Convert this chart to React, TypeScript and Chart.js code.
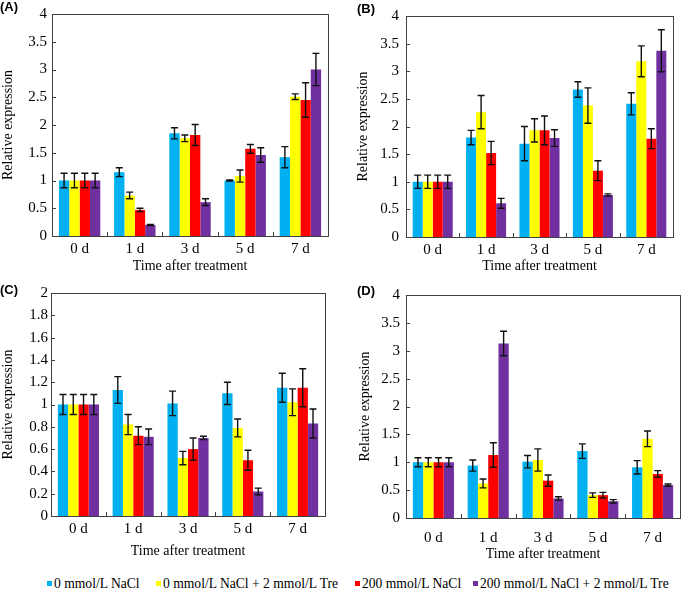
import React, { useEffect, useRef } from "react";
import { Chart, registerables } from "chart.js";

Chart.register(...registerables);

const CATEGORIES = ["0 d", "1 d", "3 d", "5 d", "7 d"];
const SERIES = [
  "0 mmol/L NaCl",
  "0 mmol/L NaCl + 2 mmol/L Tre",
  "200 mmol/L NaCl",
  "200 mmol/L NaCl + 2 mmol/L Tre",
];
const COLORS = ["#00B0F0", "#FFFF00", "#FF0000", "#7030A0"];

// rows = series, columns = categories
const A_MEANS = [
  [1.0, 1.15, 1.85, 1.0, 1.42],
  [1.0, 0.73, 1.76, 1.08, 2.51],
  [1.0, 0.47, 1.82, 1.57, 2.45],
  [1.0, 0.2, 0.61, 1.46, 3.0],
];
const A_ERRS = [
  [0.13, 0.08, 0.1, 0.01, 0.19],
  [0.13, 0.06, 0.06, 0.11, 0.05],
  [0.13, 0.03, 0.19, 0.08, 0.31],
  [0.13, 0.01, 0.06, 0.13, 0.29],
];

const B_MEANS = [
  [1.0, 1.8, 1.69, 2.67, 2.41],
  [1.0, 2.26, 1.93, 2.38, 3.18],
  [1.0, 1.52, 1.93, 1.2, 1.78],
  [1.0, 0.61, 1.79, 0.76, 3.37],
];
const B_ERRS = [
  [0.12, 0.13, 0.31, 0.14, 0.2],
  [0.12, 0.3, 0.21, 0.32, 0.28],
  [0.12, 0.21, 0.26, 0.18, 0.18],
  [0.12, 0.09, 0.15, 0.02, 0.38],
];

const C_MEANS = [
  [1.0, 1.13, 1.01, 1.1, 1.15],
  [1.0, 0.82, 0.52, 0.79, 1.02],
  [1.0, 0.72, 0.6, 0.5, 1.15],
  [1.0, 0.71, 0.7, 0.22, 0.83],
];
const C_ERRS = [
  [0.09, 0.12, 0.11, 0.1, 0.13],
  [0.09, 0.09, 0.06, 0.08, 0.12],
  [0.09, 0.08, 0.1, 0.09, 0.17],
  [0.09, 0.07, 0.015, 0.03, 0.13],
];

const D_MEANS = [
  [1.0, 0.94, 1.01, 1.2, 0.91],
  [1.0, 0.62, 1.04, 0.41, 1.42],
  [1.0, 1.13, 0.67, 0.41, 0.79],
  [1.0, 3.13, 0.35, 0.3, 0.59],
];
const D_ERRS = [
  [0.08, 0.1, 0.11, 0.13, 0.12],
  [0.08, 0.08, 0.2, 0.04, 0.14],
  [0.08, 0.22, 0.1, 0.05, 0.06],
  [0.08, 0.22, 0.03, 0.03, 0.02],
];

const SERIF = "'Liberation Serif', 'Times New Roman', serif";
const SANS = "'Liberation Sans', Arial, sans-serif";

const errorBarPlugin = {
  id: "errorBars",
  afterDatasetsDraw(chart: any) {
    const ctx = chart.ctx;
    const y = chart.scales.y;
    ctx.save();
    ctx.strokeStyle = "#111";
    ctx.lineWidth = 1.4;
    chart.data.datasets.forEach((ds: any, i: number) => {
      const meta = chart.getDatasetMeta(i);
      meta.data.forEach((el: any, j: number) => {
        const v = ds.data[j];
        const e = ds.errs[j];
        const yt = y.getPixelForValue(v + e);
        const yb = y.getPixelForValue(v - e);
        const x = el.x;
        const cap = 3.5;
        ctx.beginPath();
        ctx.moveTo(x, yt);
        ctx.lineTo(x, yb);
        ctx.moveTo(x - cap, yt);
        ctx.lineTo(x + cap, yt);
        ctx.moveTo(x - cap, yb);
        ctx.lineTo(x + cap, yb);
        ctx.stroke();
      });
    });
    ctx.restore();
  },
};

const framePlugin = {
  id: "frame",
  afterDraw(chart: any) {
    const { ctx, chartArea } = chart;
    const { left, right, top, bottom } = chartArea;
    const xs = chart.scales.x;
    const ys = chart.scales.y;
    ctx.save();
    ctx.strokeStyle = "#404040";
    ctx.lineWidth = 1;
    ctx.strokeRect(Math.round(left) + 0.5, Math.round(top) + 0.5, Math.round(right - left), Math.round(bottom - top));
    ctx.beginPath();
    ys.ticks.forEach((t: any) => {
      const py = Math.round(ys.getPixelForValue(t.value)) + 0.5;
      ctx.moveTo(left, py);
      ctx.lineTo(left + 4, py);
    });
    const n = chart.data.labels.length;
    for (let i = 1; i < n; i++) {
      const px = Math.round((xs.getPixelForValue(i - 1) + xs.getPixelForValue(i)) / 2) + 0.5;
      ctx.moveTo(px, bottom);
      ctx.lineTo(px, bottom - 4);
    }
    ctx.stroke();
    ctx.restore();
  },
};

type PanelProps = {
  letter: string;
  means: number[][];
  errs: number[][];
  yMax: number;
  yStep: number;
  left: number;
  top: number;
  width: number;
  height: number;
  pad: { top: number; right: number };
  yWidth: number;
  xHeight: number;
  yTitlePad: number;
  yTickPad: number;
  xTickPad: number;
  xTitlePad: number;
  letterPos: { x: number; y: number };
};

function Panel(p: PanelProps) {
  const ref = useRef<HTMLCanvasElement | null>(null);
  useEffect(() => {
    if (!ref.current) return;
    const chart = new Chart(ref.current, {
      type: "bar",
      data: {
        labels: CATEGORIES,
        datasets: SERIES.map((name, i) => ({
          label: name,
          data: p.means[i],
          errs: p.errs[i],
          backgroundColor: COLORS[i],
          borderWidth: 0,
          categoryPercentage: 0.75,
          barPercentage: 1.0,
        })) as any,
      },
      options: {
        animation: false,
        responsive: false,
        devicePixelRatio: 1,
        layout: { padding: { left: 0, top: p.pad.top, right: p.pad.right, bottom: 0 } },
        plugins: { legend: { display: false }, tooltip: { enabled: false } },
        scales: {
          x: {
            grid: { display: false, drawTicks: false },
            border: { display: false },
            ticks: {
              color: "#000",
              padding: p.xTickPad,
              font: { family: SERIF, size: 15 },
            },
            title: {
              display: true,
              text: "Time after treatment",
              color: "#000",
              font: { family: SERIF, size: 14 },
              padding: { top: 0, bottom: p.xTitlePad },
            },
            afterFit: (s: any) => {
              s.height = p.xHeight;
            },
          },
          y: {
            min: 0,
            max: p.yMax,
            grid: { display: false, drawTicks: false },
            border: { display: false },
            ticks: {
              stepSize: p.yStep,
              color: "#000",
              padding: p.yTickPad,
              font: { family: SERIF, size: 15 },
              callback: (v: any) => String(Math.round(Number(v) * 10) / 10),
            },
            title: {
              display: true,
              text: "Relative expression",
              color: "#000",
              font: { family: SERIF, size: 14 },
              padding: { top: p.yTitlePad, bottom: 0 },
            },
            afterFit: (s: any) => {
              s.width = p.yWidth;
            },
          },
        },
      },
      plugins: [errorBarPlugin, framePlugin],
    });
    return () => chart.destroy();
  }, []);
  return (
    <>
      <canvas
        ref={ref}
        width={p.width}
        height={p.height}
        style={{ position: "absolute", left: p.left, top: p.top, width: p.width, height: p.height }}
      />
      <div
        style={{
          position: "absolute",
          left: p.letterPos.x,
          top: p.letterPos.y,
          fontFamily: SANS,
          fontWeight: "bold",
          fontSize: 13,
          lineHeight: "13px",
          color: "#000",
        }}
      >
        {p.letter}
      </div>
    </>
  );
}

const LEGEND_X = [47, 156, 355, 473];

export default function App() {
  return (
    <div style={{ position: "absolute", left: 0, top: 0, width: 685, height: 589, background: "#fff", overflow: "hidden" }}>
      <Panel
        letter="(A)"
        means={A_MEANS}
        errs={A_ERRS}
        yMax={4}
        yStep={0.5}
        left={0}
        top={0}
        width={340}
        height={280}
        pad={{ top: 10, right: 12 }}
        yWidth={52}
        xHeight={44}
        yTitlePad={0}
        yTickPad={5}
        xTickPad={4}
        xTitlePad={5}
        letterPos={{ x: 0, y: 0 }}
      />
      <Panel
        letter="(B)"
        means={B_MEANS}
        errs={B_ERRS}
        yMax={4}
        yStep={0.5}
        left={340}
        top={0}
        width={345}
        height={280}
        pad={{ top: 8, right: 12 }}
        yWidth={66}
        xHeight={43}
        yTitlePad={15}
        yTickPad={7}
        xTickPad={4}
        xTitlePad={5}
        letterPos={{ x: 357, y: 2 }}
      />
      <Panel
        letter="(C)"
        means={C_MEANS}
        errs={C_ERRS}
        yMax={2}
        yStep={0.2}
        left={0}
        top={280}
        width={340}
        height={285}
        pad={{ top: 13, right: 15 }}
        yWidth={51}
        xHeight={49}
        yTitlePad={0}
        yTickPad={3}
        xTickPad={4}
        xTitlePad={5}
        letterPos={{ x: 0, y: 283 }}
      />
      <Panel
        letter="(D)"
        means={D_MEANS}
        errs={D_ERRS}
        yMax={4}
        yStep={0.5}
        left={340}
        top={280}
        width={345}
        height={285}
        pad={{ top: 13, right: 5 }}
        yWidth={66}
        xHeight={47}
        yTitlePad={17}
        yTickPad={6}
        xTickPad={11}
        xTitlePad={2}
        letterPos={{ x: 357, y: 284 }}
      />
      {SERIES.map((name, i) => (
        <div
          key={name}
          style={{
            position: "absolute",
            left: LEGEND_X[i],
            top: 575,
            height: 17,
            display: "flex",
            alignItems: "center",
            whiteSpace: "nowrap",
            fontFamily: SERIF,
            fontSize: 13.6,
            color: "#000",
          }}
        >
          <span style={{ display: "inline-block", width: 5, height: 5, background: COLORS[i], marginRight: 2 }} />
          <span>{name}</span>
        </div>
      ))}
    </div>
  );
}
